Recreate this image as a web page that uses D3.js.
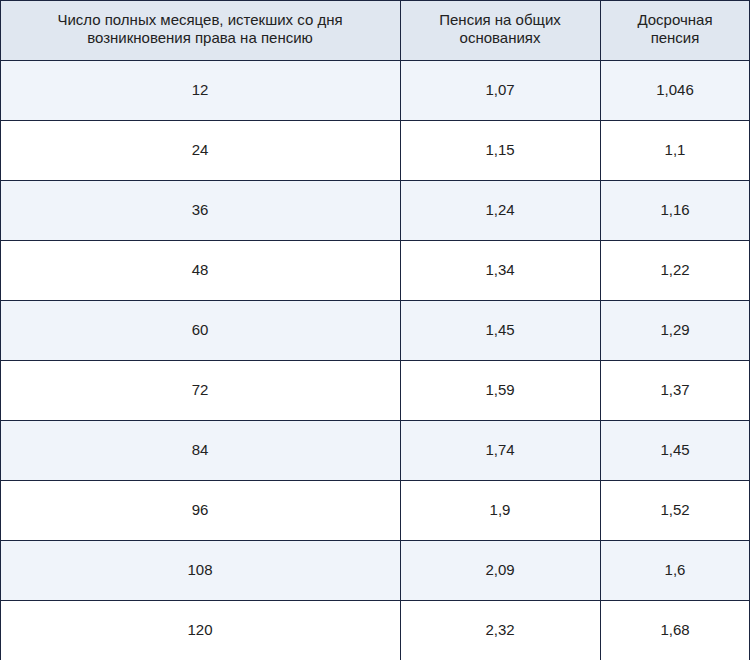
<!DOCTYPE html><html><head><meta charset="utf-8"><script src="https://cdn.jsdelivr.net/npm/d3@7"></script>
<style>body{margin:0;background:#fff}</style></head><body><svg id="c" width="750" height="660"></svg>
<script>
const headers=[["Число полных месяцев, истекших со дня","возникновения права на пенсию"],["Пенсия на общих","основаниях"],["Досрочная","пенсия"]];
const months=["12","24","36","48","60","72","84","96","108","120"];
const general=["1,07","1,15","1,24","1,34","1,45","1,59","1,74","1,9","2,09","2,32"];
const early=["1,046","1,1","1,16","1,22","1,29","1,37","1,45","1,52","1,6","1,68"];
const svg=d3.select("#c");
const colEdges=[0,400,600,750];
const x=d3.scaleOrdinal().domain([0,1,2]).range([0,400,600]);
const w=[400,200,150];
const y=d3.scaleLinear().domain([0,11]).range([0,660]);
const rows=months.map((m,i)=>[m,general[i],early[i]]);
// header
headers.forEach((h,c)=>{
  svg.append("rect").attr("x",x(c)).attr("y",y(0)).attr("width",w[c]).attr("height",y(1)-y(0)).attr("fill","#e0e7f0");
  const t=svg.append("text").attr("x",x(c)+w[c]/2).attr("text-anchor","middle").attr("font-family","Liberation Sans, Arial").attr("font-size",15).attr("fill","#222");
  h.forEach((l,k)=>t.append("tspan").attr("x",x(c)+w[c]/2).attr("y",y(0)+25+k*18).text(l));
});
rows.forEach((r,i)=>{
  r.forEach((v,c)=>{
    svg.append("rect").attr("x",x(c)).attr("y",y(i+1)).attr("width",w[c]).attr("height",y(1)-y(0)).attr("fill",i%2===0?"#f0f4fa":"#ffffff");
    svg.append("text").attr("x",x(c)+w[c]/2).attr("y",y(i+1)+35).attr("text-anchor","middle").attr("font-family","Liberation Sans, Arial").attr("font-size",15).attr("fill","#222").text(v);
  });
});
const lc="#1b2540";
d3.range(1,11).forEach(i=>svg.append("line").attr("x1",0).attr("x2",750).attr("y1",y(i)+0.5).attr("y2",y(i)+0.5).attr("stroke",lc));
[400,600].forEach(xx=>svg.append("line").attr("x1",xx+0.5).attr("x2",xx+0.5).attr("y1",0).attr("y2",660).attr("stroke",lc));
svg.append("rect").attr("x",0.5).attr("y",0.5).attr("width",749).attr("height",660).attr("fill","none").attr("stroke",lc);
</script></body></html>
